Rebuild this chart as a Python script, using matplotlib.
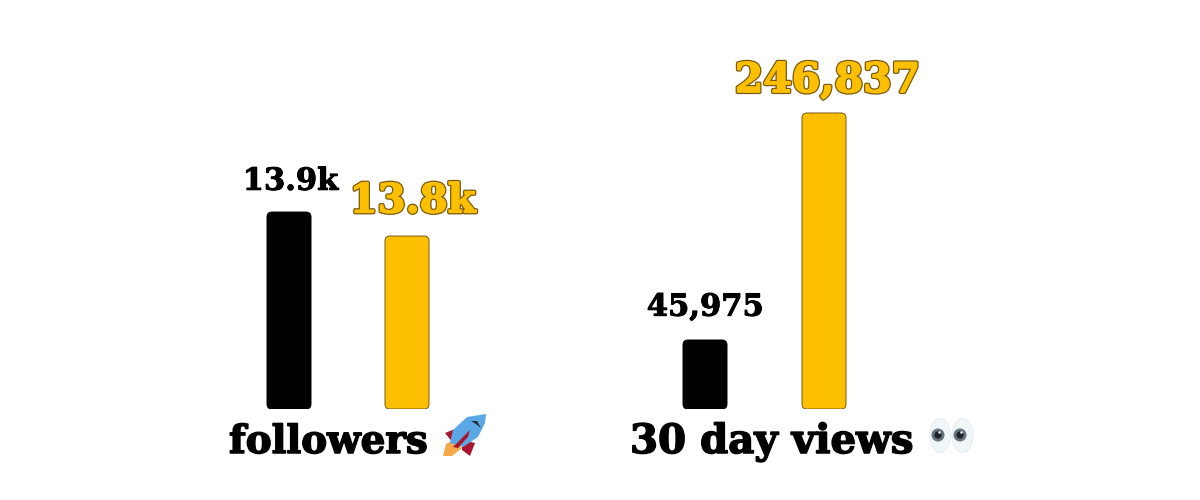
import matplotlib
matplotlib.use('Agg')
import matplotlib.pyplot as plt
import matplotlib.patheffects as pe
from matplotlib.patches import FancyBboxPatch, Ellipse, Circle, Polygon

black = '#000000'
gold = '#fdc000'
edge = '#7a5a10'

follower_values = [13.9, 13.8]
follower_labels = ['13.9k', '13.8k']
view_values = [45975, 246837]
view_labels = ['45,975', '246,837']

W, H = 1200, 500
fig = plt.figure(figsize=(12, 5), dpi=100, facecolor='white')
plt.rcParams['font.family'] = ['DejaVu Serif']


def panel(x0, x1, y0, y1, values):
    ax = fig.add_axes([x0 / W, 1 - 409 / H, (x1 - x0) / W, 409 / H])
    ax.set_xlim(-0.5, 1.5)
    ax.set_ylim(y0, y1)
    ax.axis('off')
    bars = ax.bar([0, 1], [v - y0 for v in values], bottom=y0, width=44 / ((x1 - x0) / 2))
    # swap square bars for rounded ones
    xpx = (x1 - x0) / 2
    ypx = 409 / (y1 - y0)
    for i, b in enumerate(bars):
        b.set_visible(False)
        ax.add_patch(FancyBboxPatch((b.get_x(), b.get_y()), b.get_width(), b.get_height(),
                                    boxstyle='round,pad=0,rounding_size=%f' % (5 / xpx),
                                    mutation_aspect=xpx / ypx,
                                    facecolor=black if i == 0 else gold,
                                    edgecolor=black if i == 0 else edge, linewidth=0.7))
    return ax


ax1 = panel(230, 466, 13.08, 13.08 + 409 / 240.2, follower_values)
ax2 = panel(645.5, 883.5, -15076, -15076 + 409 * 884.8, view_values)

outline = [pe.withStroke(linewidth=2.8, foreground=edge), pe.withStroke(linewidth=1.0, foreground=gold), pe.Normal()]
heavy = [pe.withStroke(linewidth=0.7, foreground=black), pe.Normal()]
heavy_big = [pe.withStroke(linewidth=1.1, foreground=black), pe.Normal()]

t = ax1.annotate(follower_labels[0], (0, follower_values[0]), xytext=(1, 16), textcoords='offset points',
                 ha='center', va='baseline', fontsize=22, fontweight='bold', color=black)
t.set_path_effects(heavy)
t = ax1.annotate(follower_labels[1], (1, follower_values[1]), xytext=(4, 17), textcoords='offset points',
                 ha='center', va='baseline', fontsize=29, fontweight='bold', color=gold)
t.set_path_effects(outline)
t = ax2.annotate(view_labels[0], (0, view_values[0]), xytext=(0, 17.5), textcoords='offset points',
                 ha='center', va='baseline', fontsize=22, fontweight='bold', color=black)
t.set_path_effects(heavy)
t = ax2.annotate(view_labels[1], (1, view_values[1]), xytext=(2.5, 15), textcoords='offset points',
                 ha='center', va='baseline', fontsize=29.5, fontweight='bold', color=gold)
t.set_path_effects(outline)

t = fig.text(229 / W, 1 - 453 / H, 'followers', ha='left', va='baseline', fontsize=28, fontweight='bold', color=black)
t.set_path_effects(heavy_big)
t = fig.text(630 / W, 1 - 453 / H, '30 day views', ha='left', va='baseline', fontsize=29, fontweight='bold', color=black)
t.set_path_effects(heavy_big)

# emoji are not in the installed fonts, so they get drawn by hand in pixel space
overlay = fig.add_axes([0, 0, 1, 1])
overlay.set_xlim(0, W)
overlay.set_ylim(H, 0)
overlay.axis('off')
overlay.patch.set_alpha(0)

# rocket
overlay.add_patch(Polygon([(443, 456), (446, 444), (453, 440), (462, 448), (452, 456)], fc='#f5a94a', ec='none'))
overlay.add_patch(Polygon([(445, 433), (460, 427), (453, 443)], fc='#a8172e', ec='none'))
overlay.add_patch(Polygon([(475, 443), (470, 456), (462, 450), (462, 440)], fc='#a8172e', ec='none'))
overlay.add_patch(Polygon([(486, 414), (467, 417), (453, 430), (450, 443), (463, 447), (478, 437), (485, 423)],
                          fc='#5ca8e6', ec='none'))
overlay.add_patch(Polygon([(453, 447), (470, 430), (468, 437), (458, 448)], fc='#a8172e', ec='none'))
overlay.add_patch(Polygon([(471, 421), (477, 421), (481, 428), (476, 424)], fc='#1f2a33', ec='none'))

# eyes
for cx in [940, 962.5]:
    overlay.add_patch(Ellipse((cx, 435.5), 21, 34, fc='#f1f6f8', ec='#dfe8ec', lw=0.5))
for cx in [938, 960]:
    overlay.add_patch(Circle((cx, 435), 6.5, fc='#67747e', ec='none'))
    overlay.add_patch(Circle((cx, 435), 3.6, fc='#1c2227', ec='none'))
    overlay.add_patch(Circle((cx + 1.5, 432.5), 1.2, fc='white', ec='none'))

fig.savefig('out.png', dpi=100, facecolor='white')
